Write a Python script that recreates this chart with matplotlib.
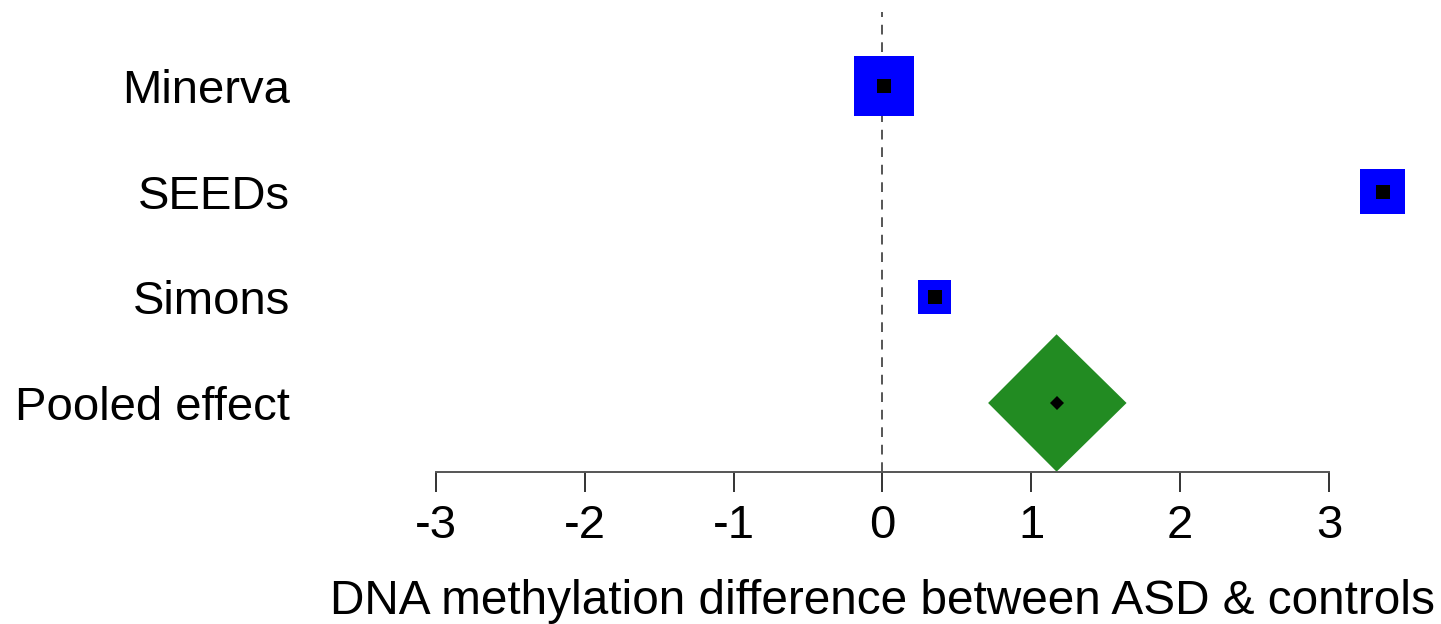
import matplotlib
matplotlib.use("Agg")
import matplotlib.pyplot as plt
import numpy as np
from matplotlib.patches import Polygon

# study-level estimates and weights (%), pooled estimate with its CI
studies = ["Minerva", "SEEDs", "Simons"]
estimates = [0.01, 3.36, 0.35]
weights = [53, 30, 17]
pooled_label = "Pooled effect"
pooled_est = 1.17
pooled_lo = 0.71
pooled_hi = 1.64
xticks = [-3, -2, -1, 0, 1, 2, 3]
xlabel = "DNA methylation difference between ASD & controls"

plt.rcParams["font.family"] = ["Liberation Sans", "DejaVu Sans"]

fig = plt.figure(figsize=(14.41, 6.24), dpi=100)
ax = fig.add_axes([0.3024, 0.2441, 0.6199, 0.7367])

rows = np.arange(len(studies) + 1, 1, -1)  # 4, 3, 2 from top
ax.axvline(0, color="#555555", lw=1.4, ls=(0, (5, 4)), zorder=1)

ax.scatter(estimates, rows, s=[35.2 * w for w in weights], marker="s",
           color="#0000ff", linewidths=0, zorder=2, clip_on=False)
ax.scatter(estimates, rows, s=110, marker="s", color="black",
           linewidths=0, zorder=3, clip_on=False)

half_h = 0.65
diamond = Polygon([(pooled_lo, 1), (pooled_est, 1 + half_h),
                   (pooled_hi, 1), (pooled_est, 1 - half_h)],
                  closed=True, facecolor="#228b22", edgecolor="none", zorder=2)
ax.add_patch(diamond)
ax.plot([pooled_est], [1], marker="D", ms=7, color="black", mew=0, zorder=3)

ax.set_xlim(-3, 3)
ax.set_ylim(0.35, 4.70)
ax.set_xticks(xticks)
ax.set_xticklabels([str(t) for t in xticks], fontsize=34)
ax.set_yticks(list(rows) + [1])
ax.set_yticklabels(studies + [pooled_label], fontsize=34)
ax.tick_params(axis="y", length=0, pad=105)
ax.tick_params(axis="x", length=14.5, width=1.4, color="#333333", pad=9)
ax.set_xlabel(xlabel, fontsize=34.4, labelpad=22)

for side in ["top", "right", "left"]:
    ax.spines[side].set_visible(False)
ax.spines["bottom"].set_bounds(-3, 3)
ax.spines["bottom"].set_linewidth(1.4)
ax.spines["bottom"].set_color("#555555")

fig.savefig("out.png", dpi=100)
